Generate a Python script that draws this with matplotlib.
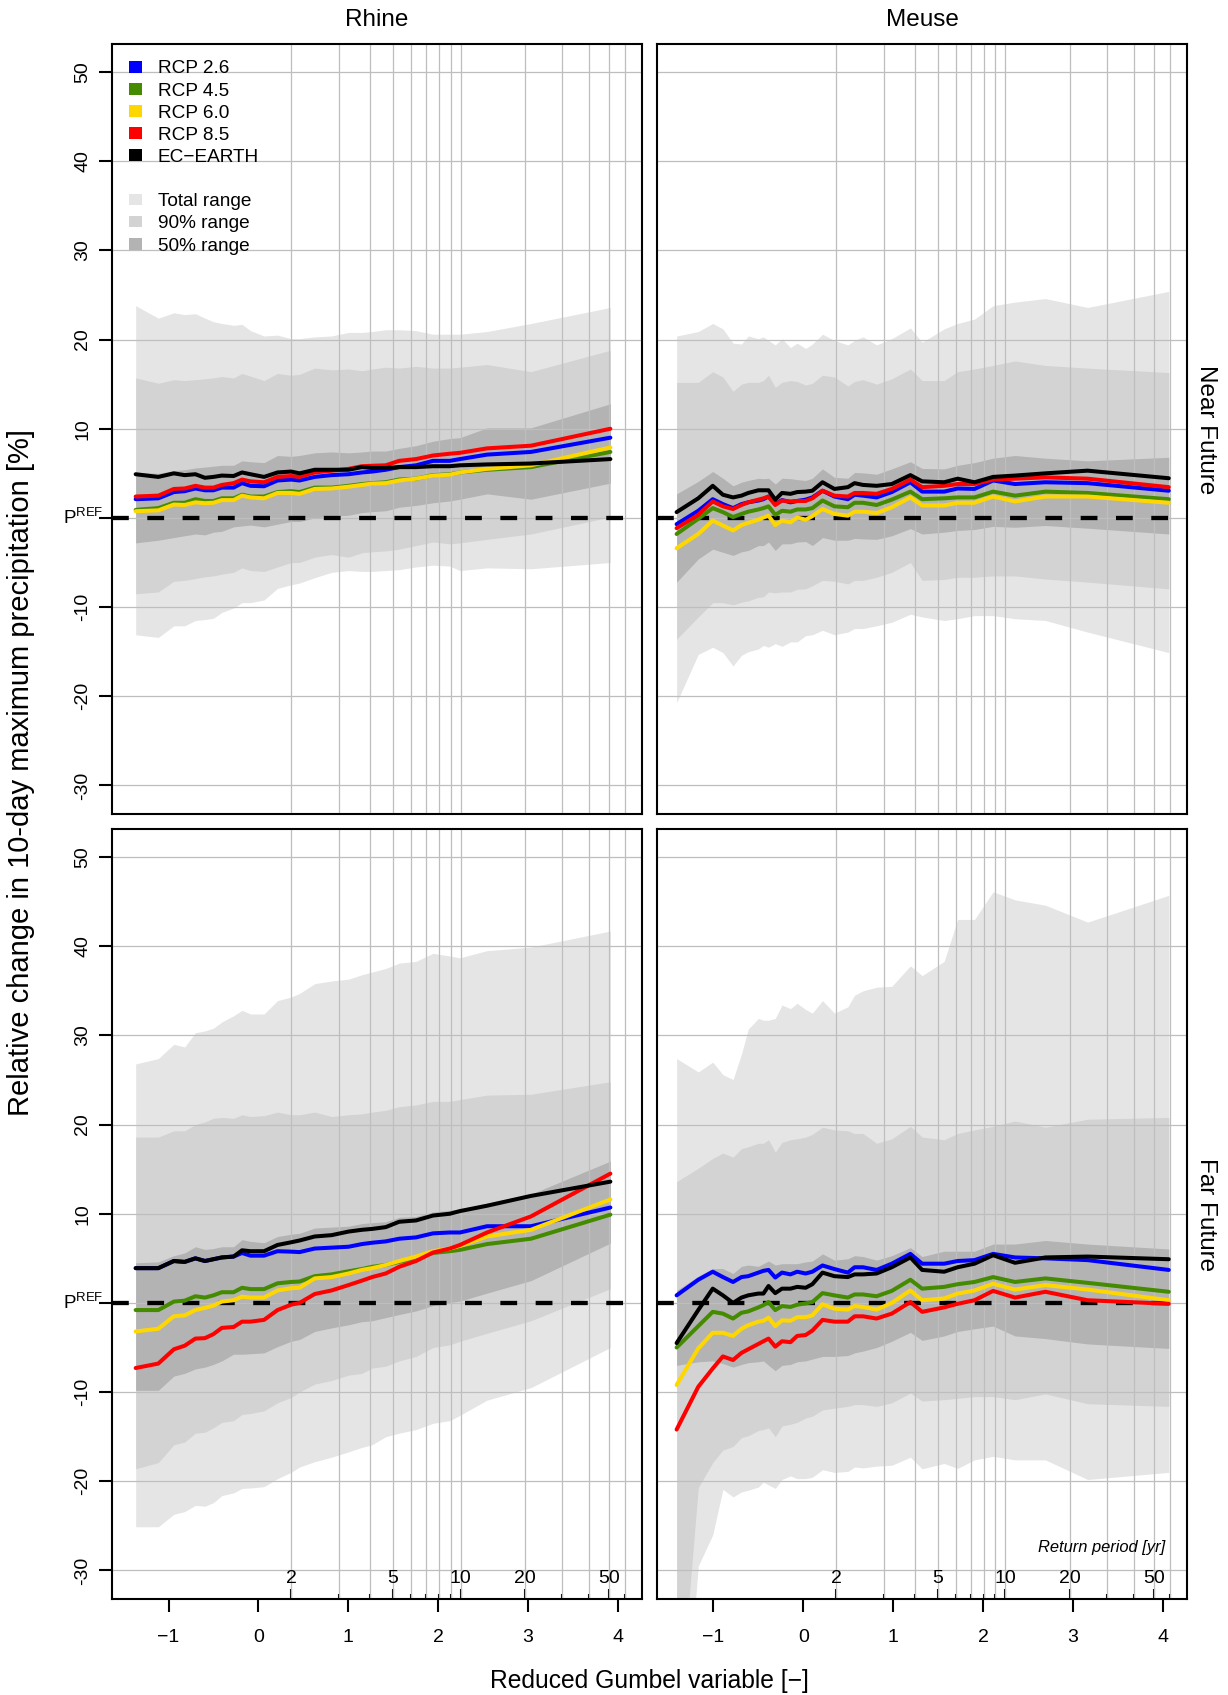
import numpy as np
import matplotlib
matplotlib.use("Agg")
import matplotlib.pyplot as plt
from matplotlib.patches import Patch
from matplotlib import transforms

plt.rcParams['font.family'] = ['Liberation Sans', 'DejaVu Sans']
plt.rcParams['mathtext.fontset'] = 'custom'
plt.rcParams['mathtext.rm'] = 'Liberation Sans'
plt.rcParams['mathtext.it'] = 'Liberation Sans:italic'

# colours (R names: blue, chartreuse4, gold, red, black, gray90, lightgray, gray70)
COL_RCP = ['#0000FF', '#458B00', '#FFD700', '#FF0000', '#000000']
COL_TOTAL = '#E5E5E5'
COL_90 = '#D3D3D3'
COL_50 = '#B3B3B3'
GRID_COL = '#BEBEBE'

LEGEND_LINES = ['RCP 2.6', 'RCP 4.5', 'RCP 6.0', 'RCP 8.5', 'EC\u2212EARTH']
LEGEND_BANDS = ['Total range', '90% range', '50% range']

Y_TICKS = [-30, -20, -10, 0, 10, 20, 30, 40, 50]
X_TICKS = [-1, 0, 1, 2, 3, 4]
RP_MAJOR = [2, 5, 10, 20, 50]
RP_MINOR = [3, 4, 6, 7, 8, 9, 30, 40, 60]

# reduced Gumbel variable of the ranked annual maxima
RHINE_X = [-1.366, -1.114, -0.941, -0.821, -0.701, -0.595, -0.501, -0.407, -0.276, -0.182,
           -0.088, 0.063, 0.213, 0.364, 0.458, 0.627, 0.815, 1.003, 1.153, 1.266,
           1.417, 1.567, 1.755, 1.943, 2.131, 2.244, 2.545, 3.034, 3.918]
MEUSE_X = [-1.410, -1.169, -1.008, -0.895, -0.782, -0.688, -0.613, -0.500, -0.444, -0.387,
           -0.312, -0.237, -0.143, -0.068, 0.026, 0.101, 0.214, 0.346, 0.496, 0.571,
           0.665, 0.816, 0.985, 1.192, 1.323, 1.568, 1.718, 1.906, 2.113, 2.357,
           2.695, 3.165, 4.068]

# ---- Rhine, near future
RN_TOT_HI = [23.8, 22.4, 23.0, 22.8, 22.9, 22.4, 22.0, 21.8, 21.6, 21.7,
             21.0, 20.4, 20.5, 20.1, 20.1, 20.3, 20.4, 20.8, 20.8, 20.9,
             21.1, 21.1, 21.0, 20.6, 20.6, 20.6, 20.9, 21.8, 23.6]
RN_P90_HI = [15.7, 15.1, 15.5, 15.4, 15.5, 15.6, 15.7, 15.85, 15.7, 16.2,
             15.9, 15.4, 16.2, 16.0, 16.1, 16.8, 16.6, 16.7, 16.5, 16.7,
             16.9, 16.8, 17.0, 16.8, 16.8, 16.9, 17.2, 16.4, 18.8]
RN_P50_HI = [5.1, 5.0, 5.3, 5.4, 5.6, 5.7, 5.8, 5.9, 5.9, 6.4,
             6.3, 6.2, 7.0, 6.9, 7.0, 7.3, 7.4, 7.3, 7.4, 7.5,
             7.5, 7.8, 8.1, 8.6, 8.9, 9.0, 10.1, 10.1, 12.8]
RN_P50_LO = [-2.8, -2.5, -2.2, -2.0, -1.8, -1.9, -1.6, -1.5, -1.0, -0.9,
             -0.8, -1.0, -0.7, -0.4, -0.4, 0.0, 0.2, 0.3, 0.6, 0.7,
             0.8, 1.2, 1.4, 1.7, 1.9, 2.1, 2.7, 2.1, 3.9]
RN_P90_LO = [-8.5, -8.3, -7.1, -7.0, -6.8, -6.6, -6.5, -6.3, -6.1, -5.6,
             -5.9, -6.0, -5.5, -5.0, -5.0, -4.4, -4.1, -4.4, -3.9, -3.8,
             -3.7, -3.5, -3.1, -2.7, -2.9, -2.8, -2.4, -1.8, 0.1]
RN_TOT_LO = [-13.1, -13.4, -12.1, -12.1, -11.5, -11.4, -11.25, -10.6, -10.1, -9.5,
             -9.5, -9.2, -7.9, -7.5, -7.3, -6.7, -6.1, -5.9, -6.0, -6.0,
             -5.9, -5.8, -5.5, -5.3, -5.4, -5.9, -5.6, -5.7, -5.0]
RN_RCP26 = [2.1, 2.2, 2.9, 3.0, 3.3, 3.1, 3.1, 3.4, 3.4, 3.9,
            3.6, 3.55, 4.2, 4.3, 4.2, 4.6, 4.8, 4.9, 5.1, 5.2,
            5.4, 5.7, 5.9, 6.4, 6.4, 6.6, 7.1, 7.4, 9.0]
RN_RCP45 = [0.9, 1.1, 1.7, 1.7, 2.1, 1.9, 1.9, 2.2, 2.2, 2.6,
            2.4, 2.4, 2.9, 3.0, 2.9, 3.4, 3.4, 3.6, 3.8, 3.9,
            4.0, 4.3, 4.4, 4.8, 4.9, 5.1, 5.4, 5.7, 7.4]
RN_RCP60 = [0.75, 0.85, 1.5, 1.45, 1.75, 1.65, 1.7, 2.0, 2.0, 2.5,
            2.3, 2.2, 2.8, 2.8, 2.7, 3.25, 3.3, 3.5, 3.7, 3.85,
            3.9, 4.2, 4.4, 4.75, 4.85, 5.1, 5.5, 5.9, 7.9]
RN_RCP85 = [2.4, 2.5, 3.25, 3.3, 3.6, 3.4, 3.4, 3.7, 3.9, 4.3,
            4.1, 4.0, 4.6, 4.7, 4.6, 5.1, 5.3, 5.5, 5.8, 5.85,
            5.9, 6.4, 6.6, 7.0, 7.2, 7.3, 7.8, 8.1, 10.0]
RN_ECE = [4.9, 4.6, 5.0, 4.8, 4.9, 4.5, 4.6, 4.75, 4.7, 5.1,
          4.9, 4.6, 5.1, 5.2, 5.0, 5.4, 5.4, 5.4, 5.7, 5.6,
          5.6, 5.7, 5.7, 5.8, 5.8, 5.9, 6.0, 6.1, 6.6]

# ---- Rhine, far future
RF_TOT_HI = [26.8, 27.4, 29.0, 28.7, 30.3, 30.5, 30.8, 31.5, 32.2, 32.8,
             32.4, 32.4, 33.9, 34.3, 34.7, 35.8, 36.1, 36.3, 36.8, 37.1,
             37.5, 38.1, 38.3, 39.2, 38.9, 38.7, 39.5, 39.9, 41.7]
RF_P90_HI = [18.6, 18.6, 19.3, 19.3, 20.0, 20.3, 20.7, 20.8, 20.7, 21.1,
             20.9, 21.0, 21.4, 21.1, 21.1, 21.4, 20.9, 21.1, 21.2, 21.4,
             21.6, 22.0, 22.2, 22.6, 22.6, 22.8, 23.3, 23.4, 24.8]
RF_P50_HI = [4.5, 4.6, 5.3, 5.6, 6.3, 6.0, 6.1, 6.3, 6.3, 7.1,
             6.9, 6.75, 7.45, 7.7, 7.8, 8.4, 8.5, 8.6, 8.9, 9.0,
             9.1, 9.6, 9.7, 10.2, 10.4, 10.5, 11.2, 12.2, 15.9]
RF_P50_LO = [-9.8, -9.8, -8.2, -7.9, -7.4, -7.2, -6.9, -6.5, -5.75, -5.75,
             -5.7, -5.6, -4.9, -4.3, -4.1, -3.2, -2.8, -2.45, -2.1, -2.0,
             -1.65, -1.3, -0.9, -0.3, 0.05, 0.2, 1.1, 2.5, 6.7]
RF_P90_LO = [-18.6, -17.9, -15.9, -15.6, -14.6, -14.5, -14.0, -13.4, -13.2, -12.5,
             -12.4, -12.1, -11.2, -10.6, -10.0, -9.1, -8.7, -8.1, -7.9, -7.3,
             -7.1, -6.5, -6.0, -5.0, -4.7, -4.3, -3.4, -2.0, 1.6]
RF_TOT_LO = [-25.1, -25.1, -23.7, -23.4, -22.7, -22.8, -22.4, -21.6, -21.3, -20.8,
             -20.75, -20.6, -19.7, -19.0, -18.4, -17.8, -17.3, -16.7, -16.2, -15.9,
             -15.0, -14.6, -14.2, -13.5, -13.2, -12.6, -10.9, -9.5, -5.0]
RF_RCP26 = [3.9, 3.9, 4.7, 4.6, 5.0, 4.7, 4.9, 5.1, 5.2, 5.6,
            5.3, 5.3, 5.8, 5.75, 5.7, 6.1, 6.2, 6.3, 6.6, 6.75,
            6.9, 7.2, 7.35, 7.8, 7.9, 7.9, 8.6, 8.6, 10.7]
RF_RCP45 = [-0.8, -0.8, 0.15, 0.25, 0.75, 0.6, 0.85, 1.2, 1.2, 1.7,
            1.55, 1.55, 2.2, 2.35, 2.4, 3.0, 3.2, 3.55, 3.8, 4.05,
            4.25, 4.6, 5.0, 5.6, 5.8, 5.95, 6.6, 7.2, 9.9]
RF_RCP60 = [-3.2, -2.9, -1.5, -1.4, -0.8, -0.55, -0.3, 0.15, 0.3, 0.7,
            0.6, 0.6, 1.4, 1.65, 1.7, 2.75, 2.9, 3.3, 3.7, 3.9,
            4.25, 4.7, 5.2, 5.8, 6.1, 6.4, 7.45, 8.2, 11.6]
RF_RCP85 = [-7.3, -6.8, -5.2, -4.8, -4.0, -3.95, -3.5, -2.8, -2.7, -2.1,
            -2.1, -1.9, -0.8, -0.2, 0.0, 1.0, 1.4, 2.0, 2.5, 2.9,
            3.3, 4.05, 4.7, 5.65, 6.1, 6.5, 7.9, 9.7, 14.5]
RF_ECE = [3.9, 3.9, 4.7, 4.6, 5.0, 4.7, 4.9, 5.1, 5.2, 5.9,
          5.8, 5.8, 6.5, 6.8, 7.0, 7.45, 7.6, 8.0, 8.2, 8.3,
          8.5, 9.1, 9.25, 9.8, 10.0, 10.3, 10.9, 12.0, 13.6]

# ---- Meuse, near future
MN_TOT_HI = [20.4, 20.9, 21.8, 21.2, 19.6, 19.5, 20.4, 20.1, 20.3, 19.9,
             19.4, 20.1, 19.1, 19.6, 19.0, 19.5, 20.6, 19.9, 19.4, 19.9,
             20.3, 19.4, 20.1, 21.3, 19.7, 21.2, 21.8, 22.3, 23.8, 24.2,
             24.6, 23.6, 25.4]
MN_P90_HI = [15.2, 15.2, 16.4, 15.8, 14.2, 15.0, 15.2, 15.2, 15.4, 16.0,
             14.65, 15.2, 15.4, 15.3, 14.9, 15.1, 16.0, 15.8, 14.8, 15.3,
             15.5, 15.0, 15.6, 16.7, 15.4, 15.4, 16.4, 16.7, 17.1, 17.6,
             17.1, 16.8, 16.3]
MN_P50_HI = [2.7, 4.1, 5.2, 4.45, 3.6, 4.0, 4.2, 4.45, 4.4, 4.45,
             3.8, 4.45, 4.4, 4.3, 4.2, 4.45, 5.5, 4.55, 4.45, 5.1,
             5.05, 4.9, 5.5, 6.3, 5.55, 5.5, 5.9, 6.2, 6.7, 7.0,
             6.7, 6.4, 6.8]
MN_P50_LO = [-7.2, -4.6, -3.5, -3.85, -4.2, -3.8, -3.65, -3.1, -3.1, -2.7,
             -3.65, -2.9, -2.9, -2.7, -2.65, -3.1, -2.2, -2.5, -2.5, -2.3,
             -2.35, -2.4, -2.0, -1.2, -1.8, -1.6, -1.4, -1.3, -0.95, -1.05,
             -0.85, -1.15, -1.8]
MN_P90_LO = [-13.6, -11.1, -9.5, -9.5, -9.75, -9.45, -9.3, -8.9, -8.85, -8.3,
             -8.4, -8.3, -8.3, -8.0, -7.95, -7.6, -7.0, -7.1, -7.4, -7.0,
             -7.0, -6.65, -6.1, -5.0, -7.0, -6.9, -6.65, -6.65, -6.5, -6.5,
             -6.85, -7.2, -7.95]
MN_TOT_LO = [-20.7, -15.3, -14.5, -15.1, -16.6, -15.4, -15.0, -14.7, -14.3, -14.5,
             -14.1, -14.4, -13.9, -13.9, -13.2, -13.1, -12.6, -13.1, -12.8, -12.4,
             -12.4, -12.1, -11.7, -10.8, -11.1, -11.5, -11.3, -10.95, -10.95, -11.3,
             -11.5, -12.8, -15.1]
MN_RCP26 = [-0.7, 0.8, 2.1, 1.55, 1.1, 1.55, 1.75, 1.95, 2.1, 2.4,
            1.55, 2.0, 1.75, 1.9, 2.05, 2.3, 3.05, 2.4, 2.1, 2.6,
            2.5, 2.3, 2.9, 4.0, 2.95, 2.95, 3.3, 3.25, 4.2, 3.8,
            4.0, 3.9, 3.05]
MN_RCP45 = [-1.8, -0.1, 1.1, 0.65, 0.1, 0.45, 0.7, 0.95, 1.1, 1.3,
            0.35, 0.8, 0.7, 0.95, 0.95, 1.1, 1.95, 1.3, 1.2, 1.7,
            1.7, 1.45, 2.05, 2.95, 2.1, 2.2, 2.3, 2.3, 2.95, 2.5,
            2.95, 2.8, 2.1]
MN_RCP60 = [-3.4, -1.8, -0.3, -0.85, -1.4, -0.8, -0.55, -0.2, 0.05, 0.25,
            -0.8, -0.3, -0.5, 0.05, -0.2, 0.2, 1.0, 0.45, 0.25, 0.7,
            0.7, 0.55, 1.2, 2.3, 1.4, 1.4, 1.7, 1.7, 2.4, 1.85,
            2.4, 2.4, 1.7]
MN_RCP85 = [-1.15, 0.35, 1.85, 1.3, 1.0, 1.45, 1.75, 2.05, 2.2, 2.4,
            1.45, 1.95, 1.85, 1.9, 1.9, 2.2, 3.05, 2.5, 2.4, 2.8,
            2.8, 2.7, 3.25, 4.3, 3.45, 3.6, 3.8, 3.8, 4.3, 4.4,
            4.55, 4.4, 3.45]
MN_ECE = [0.65, 2.2, 3.6, 2.6, 2.3, 2.5, 2.8, 3.1, 3.1, 3.1,
          2.05, 2.8, 2.7, 2.9, 2.95, 3.05, 4.0, 3.25, 3.45, 3.9,
          3.7, 3.6, 3.8, 4.8, 4.1, 4.0, 4.4, 4.0, 4.6, 4.75,
          5.0, 5.3, 4.45]

# ---- Meuse, far future
MF_TOT_HI = [27.4, 25.9, 27.0, 25.6, 25.05, 27.9, 30.7, 31.9, 31.7, 31.7,
             31.9, 33.4, 33.0, 33.6, 32.9, 32.5, 33.9, 32.5, 33.2, 34.5,
             35.0, 35.4, 35.5, 37.8, 36.7, 38.3, 43.0, 43.0, 46.1, 45.2,
             44.6, 42.7, 45.7]
MF_P90_HI = [13.6, 15.1, 16.2, 16.8, 16.35, 17.3, 17.5, 17.9, 17.9, 18.3,
             16.9, 18.0, 18.3, 18.4, 18.6, 18.9, 19.7, 19.4, 19.3, 19.0,
             19.0, 17.9, 18.4, 19.8, 18.6, 18.3, 19.0, 19.4, 19.8, 20.4,
             19.7, 20.6, 20.8]
MF_P50_HI = [1.4, 3.0, 3.85, 3.85, 3.3, 4.1, 4.25, 4.1, 4.4, 4.7,
             4.25, 4.4, 4.4, 4.4, 4.6, 4.7, 5.5, 4.8, 4.95, 5.3,
             5.2, 4.8, 5.3, 6.2, 5.2, 5.8, 5.8, 5.8, 6.6, 6.6,
             7.0, 6.6, 6.05]
MF_P50_LO = [-7.0, -6.6, -6.5, -6.8, -7.2, -6.9, -6.7, -6.6, -6.5, -7.0,
             -7.6, -7.0, -6.9, -6.6, -6.5, -6.3, -6.0, -6.0, -5.9, -5.6,
             -5.4, -5.0, -4.3, -3.3, -4.2, -3.7, -3.2, -2.9, -2.6, -3.7,
             -4.0, -4.6, -5.1]
MF_P90_LO = [-50.0, -20.7, -17.9, -16.5, -16.1, -15.1, -14.9, -14.3, -14.2, -14.0,
             -15.0, -13.8, -13.6, -13.4, -12.9, -12.7, -12.0, -11.8, -11.6, -11.4,
             -11.4, -11.6, -11.2, -10.1, -11.0, -10.85, -10.7, -10.5, -10.5, -10.85,
             -10.2, -11.3, -11.6]
MF_TOT_LO = [-60.0, -29.5, -26.0, -20.9, -21.75, -21.2, -21.0, -20.65, -20.1, -20.4,
             -20.8, -19.8, -19.4, -19.7, -19.7, -19.55, -18.7, -19.0, -18.9, -18.4,
             -18.5, -18.3, -18.2, -17.3, -18.6, -18.0, -18.55, -17.6, -17.2, -17.6,
             -17.6, -19.8, -19.0]
MF_RCP26 = [0.85, 2.6, 3.5, 2.9, 2.35, 2.9, 3.0, 3.4, 3.6, 3.7,
            2.85, 3.4, 3.2, 3.5, 3.3, 3.5, 4.2, 3.8, 3.4, 4.0,
            4.0, 3.7, 4.4, 5.5, 4.4, 4.4, 4.7, 4.8, 5.5, 5.1,
            5.0, 4.8, 3.7]
MF_RCP45 = [-5.0, -2.6, -1.0, -1.2, -1.75, -1.1, -0.95, -0.5, -0.25, 0.1,
            -0.8, -0.35, -0.45, -0.2, -0.05, 0.1, 1.1, 0.85, 0.6, 0.95,
            0.95, 0.75, 1.35, 2.6, 1.6, 1.8, 2.1, 2.35, 2.9, 2.35,
            2.75, 2.25, 1.25]
MF_RCP60 = [-9.2, -5.1, -3.35, -3.35, -3.7, -2.9, -2.5, -2.1, -2.0, -1.65,
            -2.6, -1.95, -2.0, -1.6, -1.6, -1.4, -0.15, -0.65, -0.75, -0.35,
            -0.45, -0.75, 0.0, 1.4, 0.3, 0.5, 1.05, 1.4, 2.15, 1.5,
            2.0, 1.5, 0.3]
MF_RCP85 = [-14.2, -9.4, -7.35, -6.0, -6.4, -5.6, -5.2, -4.6, -4.3, -4.0,
            -4.9, -4.3, -4.4, -3.7, -3.6, -3.1, -1.9, -2.1, -2.1, -1.5,
            -1.5, -1.75, -1.2, 0.1, -1.0, -0.5, -0.1, 0.3, 1.35, 0.6,
            1.25, 0.3, -0.1]
MF_ECE = [-4.5, -0.8, 1.6, 0.85, 0.0, 0.6, 0.85, 1.05, 1.05, 1.9,
          1.1, 1.6, 1.6, 1.8, 1.7, 2.1, 3.4, 3.0, 2.9, 3.2,
          3.2, 3.3, 4.0, 5.1, 3.7, 3.5, 4.0, 4.4, 5.35, 4.5,
          5.1, 5.2, 4.9]

W, H = 1228, 1695
XLIM = (-1.625, 4.27)
YLIM = (-33.2, 53.2)


def gumbel_to_T(y):
    y = np.asarray(y, dtype=float)
    with np.errstate(all='ignore'):
        return 1.0 / (1.0 - np.exp(-np.exp(-y)))


def T_to_gumbel(T):
    T = np.asarray(T, dtype=float)
    with np.errstate(all='ignore'):
        return -np.log(-np.log(1.0 - 1.0 / T))


def draw_panel(ax, x, bands, lines, bottom_row, left_col):
    tot_lo, tot_hi, p90_lo, p90_hi, p50_lo, p50_hi = bands
    ax.fill_between(x, tot_lo, tot_hi, color=COL_TOTAL, lw=0, zorder=1)
    ax.fill_between(x, p90_lo, p90_hi, color=COL_90, lw=0, zorder=1.1)
    ax.fill_between(x, p50_lo, p50_hi, color=COL_50, lw=0, zorder=1.2)

    # grid: return periods vertically, y ticks horizontally
    for T in RP_MAJOR + RP_MINOR:
        ax.axvline(T_to_gumbel(T), color=GRID_COL, lw=0.9, zorder=2)
    for v in Y_TICKS:
        ax.axhline(v, color=GRID_COL, lw=0.9, zorder=2)
    ax.axhline(0, color='black', lw=3.1, dashes=(3.9, 4.3), zorder=3)

    for vals, col in zip(lines, COL_RCP):
        ax.plot(x, vals, color=col, lw=2.9, zorder=4,
                solid_capstyle='round', solid_joinstyle='round')

    ax.set_xlim(XLIM)
    ax.set_ylim(YLIM)
    for sp in ax.spines.values():
        sp.set_linewidth(1.5)
    ax.tick_params(direction='out', length=9.4, width=1.5, labelsize=14)

    if left_col:
        ax.set_yticks(Y_TICKS, [str(v) if v != 0 else '' for v in Y_TICKS])
        ax.tick_params(axis='y', pad=6.0)
        plt.setp(ax.get_yticklabels(), rotation=90, va='center')
        ax.text(-0.0177, 0.005, r'P$^{\mathrm{REF}}$',
                transform=transforms.blended_transform_factory(ax.transAxes, ax.transData),
                ha='right', va='center', fontsize=13.5)
    else:
        ax.set_yticks([])

    if bottom_row:
        ax.set_xticks(X_TICKS)
        ax.tick_params(axis='x', pad=12.5)
        sec = ax.secondary_xaxis('bottom', functions=(gumbel_to_T, T_to_gumbel))
        sec.set_xticks(RP_MAJOR)
        sec.set_xticks(RP_MINOR, minor=True)
        sec.tick_params(which='major', direction='in', length=7.5, width=1.5, labelbottom=False)
        sec.tick_params(which='minor', direction='in', length=3.6, width=1.5, labelbottom=False)
        sec.spines['bottom'].set_visible(False)
        blend = transforms.blended_transform_factory(ax.transData, ax.transAxes)
        for T in RP_MAJOR:
            ax.text(T_to_gumbel(T), 0.021, str(T), transform=blend,
                    ha='center', va='baseline', fontsize=14, zorder=5)
    else:
        ax.set_xticks([])


fig = plt.figure(figsize=(W / 100, H / 100), dpi=100)

col_left = [112.4 / W, 657.3 / W]
col_w = 529.6 / W
row_bottom = [1 - 814 / H, 1 - 1599 / H]
row_h = 770.5 / H

ax_rn = fig.add_axes([col_left[0], row_bottom[0], col_w, row_h])
ax_mn = fig.add_axes([col_left[1], row_bottom[0], col_w, row_h])
ax_rf = fig.add_axes([col_left[0], row_bottom[1], col_w, row_h])
ax_mf = fig.add_axes([col_left[1], row_bottom[1], col_w, row_h])

draw_panel(ax_rn, RHINE_X,
           (RN_TOT_LO, RN_TOT_HI, RN_P90_LO, RN_P90_HI, RN_P50_LO, RN_P50_HI),
           (RN_RCP26, RN_RCP45, RN_RCP60, RN_RCP85, RN_ECE), False, True)
draw_panel(ax_mn, MEUSE_X,
           (MN_TOT_LO, MN_TOT_HI, MN_P90_LO, MN_P90_HI, MN_P50_LO, MN_P50_HI),
           (MN_RCP26, MN_RCP45, MN_RCP60, MN_RCP85, MN_ECE), False, False)
draw_panel(ax_rf, RHINE_X,
           (RF_TOT_LO, RF_TOT_HI, RF_P90_LO, RF_P90_HI, RF_P50_LO, RF_P50_HI),
           (RF_RCP26, RF_RCP45, RF_RCP60, RF_RCP85, RF_ECE), True, True)
draw_panel(ax_mf, MEUSE_X,
           (MF_TOT_LO, MF_TOT_HI, MF_P90_LO, MF_P90_HI, MF_P50_LO, MF_P50_HI),
           (MF_RCP26, MF_RCP45, MF_RCP60, MF_RCP85, MF_ECE), True, False)

ax_mf.text(0.9585, 0.067, 'Return period [yr]', transform=ax_mf.transAxes,
           ha='right', va='center', style='italic', fontsize=11.9, zorder=5)

# legend (top left panel), blank row between the lines and the ranges
handles = [Patch(facecolor=c, edgecolor='none') for c in COL_RCP]
handles.append(Patch(facecolor='none', edgecolor='none'))
handles += [Patch(facecolor=c, edgecolor='none') for c in (COL_TOTAL, COL_90, COL_50)]
labels = LEGEND_LINES + [' '] + LEGEND_BANDS
leg = ax_rn.legend(handles, labels, loc='upper left', bbox_to_anchor=(0.0315, 0.978),
                   frameon=False, fontsize=13.7, borderpad=0, borderaxespad=0,
                   handlelength=0.7, handleheight=0.56, handletextpad=0.8, labelspacing=0.27)
leg.set_zorder(6)

fig.text(377 / W, 1 - 20.5 / H, 'Rhine', ha='center', va='center', fontsize=17.5)
fig.text(922 / W, 1 - 20.5 / H, 'Meuse', ha='center', va='center', fontsize=17.5)
fig.text(1200 / W, 1 - 430 / H, 'Near Future', rotation=-90, rotation_mode='anchor',
         ha='center', va='baseline', fontsize=17.5)
fig.text(1200 / W, 1 - 1215 / H, 'Far Future', rotation=-90, rotation_mode='anchor',
         ha='center', va='baseline', fontsize=17.5)
fig.text(29 / W, 1 - 772 / H, 'Relative change in 10-day maximum precipitation [%]',
         rotation=90, rotation_mode='anchor', ha='center', va='baseline', fontsize=21)
fig.text(649 / W, 1 - 1688 / H, 'Reduced Gumbel variable [\u2212]',
         ha='center', va='baseline', fontsize=17.7)

fig.savefig('out.png', dpi=100)
